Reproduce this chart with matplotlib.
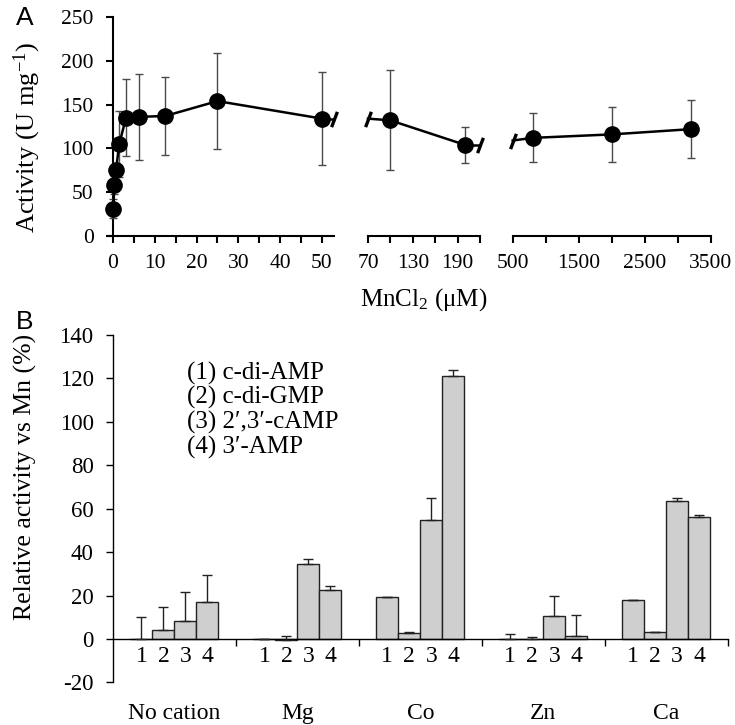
import matplotlib
matplotlib.use("Agg")
import matplotlib.pyplot as plt
import numpy as np

plt.rcParams['font.family'] = ['Liberation Serif', 'DejaVu Serif']
plt.rcParams['mathtext.fontset'] = 'custom'
plt.rcParams['mathtext.rm'] = 'Liberation Serif'
plt.rcParams['mathtext.it'] = 'Liberation Serif:italic'
plt.rcParams['axes.unicode_minus'] = False

# ---------------- Panel A data ----------------
conc_low = [0.1, 0.3, 0.7, 1.5, 3.1, 6.25, 12.5, 25, 50]
act_low = [31, 58, 75, 105, 135, 136, 137, 154, 134]
err_low = [11, 10, 8, 38, 44, 49, 45, 55, 53]

conc_mid = [100, 200]
act_mid = [132, 104]
err_mid = [57, 21]

conc_high = [800, 2000, 3200]
act_high = [112, 116, 122]
err_high = [28, 31, 33]

# ---------------- Panel B data ----------------
cations = ['No cation', 'Mg', 'Co', 'Zn', 'Ca']
compounds = ['(1) c-di-AMP', '(2) c-di-GMP', '(3) 2\u2032,3\u2032-cAMP', '(4) 3\u2032-AMP']
bar_labels = ['1', '2', '3', '4']
rel_c1 = [0.0, 0.0, 19.3, 0.0, 17.9]
rel_c2 = [4.2, -0.3, 2.6, 0.0, 3.1]
rel_c3 = [8.2, 34.4, 55.0, 10.5, 63.5]
rel_c4 = [16.8, 22.5, 121.1, 1.4, 56.1]
err_c1 = [9.9, 0.0, 0.2, 2.3, 0.0]
err_c2 = [10.3, 1.8, 0.8, 0.9, 0.0]
err_c3 = [13.4, 2.6, 9.9, 9.5, 1.2]
err_c4 = [12.8, 1.8, 2.6, 9.7, 0.8]

W, H = 735, 725
fig = plt.figure(figsize=(W / 100, H / 100), dpi=100)

def fx(px):
    return px / W

def fy(py):
    return 1 - py / H

bottomA = fy(236)
heightA = 219 / H
XL1 = (-1.2, 52.9)
XL2 = (70, 220)
XL3 = (500, 3500)

ax1 = fig.add_axes([fx(108), bottomA, (334 - 108) / W, heightA])
ax2 = fig.add_axes([fx(368), bottomA, (480 - 368) / W, heightA])
ax3 = fig.add_axes([fx(512.7), bottomA, (711 - 512.7) / W, heightA])

line_kw = dict(color='black', lw=1.8, marker='o', ms=11, mfc='black', mec='black',
               ecolor='#4a4a4a', elinewidth=1.0, capsize=3, capthick=1.0, clip_on=False, zorder=3)
slash = [(-0.38, -1.0), (0.38, 1.0)]
slash_kw = dict(marker=slash, ms=11, mew=2.4, color='black', ls='none', clip_on=False, zorder=4)

for ax, xl in [(ax1, XL1), (ax2, XL2), (ax3, XL3)]:
    ax.set_ylim(0, 250)
    ax.set_xlim(*xl)
    ax.patch.set_alpha(0)
    for s in ['top', 'right']:
        ax.spines[s].set_visible(False)
    ax.spines['bottom'].set_linewidth(1.5)
    ax.tick_params(axis='x', direction='out', length=5, width=1.5, labelsize=15.5, pad=8)
    ax.tick_params(axis='y', direction='out', length=5, width=1.5, labelsize=15.5, pad=9)

ax1.spines['left'].set_position(('data', 0))
ax1.spines['left'].set_linewidth(1.5)
ax1.set_yticks(np.arange(0, 251, 50))
ax1.set_xticks(np.arange(0, 51, 5))
ax1.set_xticklabels([str(v) if v % 10 == 0 else '' for v in range(0, 51, 5)])
ax1.errorbar(conc_low, act_low, yerr=err_low, **line_kw)
ax1.plot([conc_low[-1], XL1[1]], [act_low[-1], act_low[-1]], color='black', lw=1.8, clip_on=False)
ax1.plot([XL1[1]], [act_low[-1]], **slash_kw)

for ax in (ax2, ax3):
    ax.spines['left'].set_visible(False)
    ax.set_yticks([])

ax2.set_xticks(np.arange(70, 221, 30))
ax2.set_xticklabels(['70', '', '130', '', '190', ''])
ax2.errorbar(conc_mid, act_mid, yerr=err_mid, **line_kw)
ax2.plot([XL2[0], conc_mid[0]], [act_low[-1], act_mid[0]], color='black', lw=1.8, clip_on=False)
ax2.plot([XL2[1] - 1e-9, conc_mid[-1]], [act_mid[-1], act_mid[-1]], color='black', lw=1.8, clip_on=False)
ax2.plot([XL2[0]], [act_low[-1]], **slash_kw)
ax2.plot([XL2[1]], [act_mid[-1]], **slash_kw)

ax3.set_xticks(np.arange(500, 3501, 500))
ax3.set_xticklabels(['500', '', '1500', '', '2500', '', '3500'])
ax3.errorbar(conc_high, act_high, yerr=err_high, **line_kw)
ax3.plot([XL3[0], conc_high[0]], [act_mid[-1] + 5, act_high[0]], color='black', lw=1.8, clip_on=False)
ax3.plot([XL3[0]], [act_mid[-1] + 5], **slash_kw)

fig.text(fx(27), fy(137), 'Activity (U mg$^{-1}$)', rotation=90, ha='center', va='center', fontsize=19)
fig.text(fx(424), fy(300), 'MnCl$_2$ (\u03bcM)', ha='center', va='center', fontsize=18)
fig.text(fx(25), fy(18), 'A', ha='center', va='center', fontsize=19, family=['Liberation Sans', 'DejaVu Sans'])
fig.text(fx(25), fy(322), 'B', ha='center', va='center', fontsize=19, family=['Liberation Sans', 'DejaVu Sans'])

# ---------------- Panel B ----------------
axB = fig.add_axes([fx(113), fy(682.4), 614.7 / W, 347.4 / H])
axB.set_xlim(-0.5, 4.5)
axB.set_ylim(-20, 140)
for s in ['top', 'right']:
    axB.spines[s].set_visible(False)
axB.spines['bottom'].set_position(('data', 0))
axB.spines['bottom'].set_linewidth(1.0)
axB.spines['left'].set_linewidth(1.0)
axB.set_yticks(np.arange(-20, 141, 20))
axB.tick_params(axis='y', direction='out', length=5, width=1.0, labelsize=16.5, pad=9)
axB.set_xticks(np.arange(0.5, 4.6, 1.0))
axB.set_xticklabels([])
axB.tick_params(axis='x', direction='out', length=5, width=1.0)

x = np.arange(len(cations))
bw = 0.179
series = [(rel_c1, err_c1), (rel_c2, err_c2), (rel_c3, err_c3), (rel_c4, err_c4)]
for i, (vals, errs) in enumerate(series):
    xs = x + (i - 1.5) * bw
    axB.bar(xs, vals, width=bw, color='#cfcfcf', edgecolor='#222222', linewidth=1.0, zorder=2)
    axB.errorbar(xs, vals, yerr=[np.zeros(len(errs)), errs], fmt='none', ecolor='#222222',
                 elinewidth=1.0, capsize=3.5, capthick=1.0, zorder=3)
    for xi in xs:
        axB.text(xi, -8.2, bar_labels[i], ha='center', va='center', fontsize=17, clip_on=False)

for xi, name in zip(x, cations):
    axB.text(xi, -34.2, name, ha='center', va='center', fontsize=17, clip_on=False)

leg_y = [0.8906, 0.8195, 0.7484, 0.6776]
for yy, txt in zip(leg_y, compounds):
    axB.text(0.12, yy, txt, transform=axB.transAxes, ha='left', va='center', fontsize=18)

fig.text(fx(25), fy(477), 'Relative activity vs Mn (%)', rotation=90, ha='center', va='center', fontsize=18.5)

fig.savefig('out.png', dpi=100)
